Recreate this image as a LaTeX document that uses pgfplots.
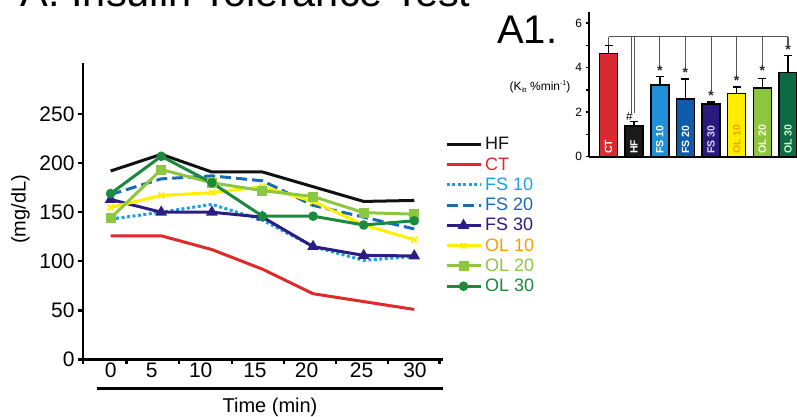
\documentclass[border=0pt]{standalone}
\usepackage{pgfplots}
\pgfplotsset{compat=1.18}
\usepackage{fontspec}
\setmainfont{Liberation Sans}
\setsansfont{Liberation Sans}
\definecolor{cHF}{HTML}{111111}
\definecolor{cCT}{HTML}{DE2A2A}
\definecolor{cFSa}{HTML}{1BA1E2}
\definecolor{cFSb}{HTML}{1A6BB5}
\definecolor{cFSc}{HTML}{2B1D84}
\definecolor{cOLa}{HTML}{FFF000}
\definecolor{cOLaT}{HTML}{F5A000}
\definecolor{cOLb}{HTML}{8DC63F}
\definecolor{cOLc}{HTML}{1B8A3C}
\definecolor{bCT}{HTML}{D92B2F}
\definecolor{bHF}{HTML}{1A1A1A}
\definecolor{bFSa}{HTML}{1E90D8}
\definecolor{bFSb}{HTML}{0F5CAA}
\definecolor{bFSc}{HTML}{2A1A80}
\definecolor{bOLa}{HTML}{FFEE00}
\definecolor{bOLb}{HTML}{8CC63F}
\definecolor{bOLc}{HTML}{0E6A45}
\definecolor{brk}{HTML}{555555}
\pgfplotsset{
  mybar/.style={ybar, bar width=18pt, bar shift=0pt, fill=#1, draw=black, line width=1.5pt,
    error bars/.cd, y dir=plus, y explicit,
    error bar style={line width=1.5pt, black},
    error mark options={rotate=90, mark size=4pt, line width=1.5pt, black}},
}
\tikzset{
  sstar/.style={inner sep=0pt, font=\fontsize{14}{14}\selectfont\bfseries, text=black!85},
  blab/.style={rotate=90, anchor=west, inner sep=0pt, font=\fontsize{10.5}{11}\selectfont\bfseries, text=#1},
}
\begin{document}
\begin{tikzpicture}[x=1pt,y=1pt]
\useasboundingbox (0,0) rectangle (797,417);
\node[anchor=base west, inner sep=0pt, font=\fontsize{41.5}{45}\selectfont] at (20.5,410) {A. Insulin Tolerance Test};
\node[anchor=base west, inner sep=0pt, font=\fontsize{40}{44}\selectfont] at (497,373.7) {A1.};

\begin{axis}[
  at={(83pt,57.5pt)}, anchor=south west, scale only axis,
  width=359.6pt, height=296.5pt,
  xmin=-2.73, xmax=32.8, ymin=0, ymax=302,
  axis x line*=bottom, axis y line*=left,
  axis line style={line width=2.5pt},
  clip=false,
  ytick={0,50,100,150,200,250},
  xtick={-2.73,1.56,6.78,12.0,17.1,22.3,27.4,32.5},
  xticklabels={,,,,,,,},
  extra x ticks={0,4.05,8.9,14.26,19.37,24.8,30.07},
  extra x tick labels={0,5,10,15,20,25,30},
  extra x tick style={major tick length=0pt},
  tick align=outside, major tick length=5pt,
  every tick/.style={black, line width=2.2pt},
  tick label style={font=\fontsize{21}{24}\selectfont},
  /pgf/number format/assume math mode=true,
  ylabel={(mg/dL)},
  every axis y label/.style={at={(-62.5pt,150pt)}, rotate=90, anchor=center, font=\fontsize{20}{22}\selectfont},
  legend image code/.code={\draw[mark repeat=2,mark phase=2,#1] plot coordinates {(0pt,0pt) (17pt,0pt) (34pt,0pt)};},
  legend cell align=left,
  legend style={at={(1.0067,0.7555)}, anchor=north west, draw=none, fill=none,
    inner sep=0pt, outer sep=0pt, row sep=2.2pt, column sep=1pt,
    font=\fontsize{18}{19}\selectfont},
]
\addplot[cHF, line width=3pt] coordinates {(0,192) (5,209) (10,191) (15,191) (20,176) (25,161) (30,162)};
\addlegendentry{\textcolor{cHF}{HF}}
\addplot[cCT, line width=3pt] coordinates {(0,126) (5,126) (10,112) (15,92) (20,67) (25,59) (30,51)};
\addlegendentry{\textcolor{cCT}{CT}}
\addplot[cFSa, line width=3pt, dash pattern=on 3pt off 2.5pt] coordinates {(0,143) (5,150) (10,158) (15,142) (20,115) (25,101) (30,105)};
\addlegendentry{\textcolor{cFSa}{FS 10}}
\addplot[cFSb, line width=3pt, dash pattern=on 11pt off 5pt] coordinates {(0,168) (5,184) (10,187) (15,182) (20,157) (25,145) (30,133)};
\addlegendentry{\textcolor{cFSb}{FS 20}}
\addplot[cFSc, line width=3pt, mark=triangle*, mark size=3.8pt, mark options={solid}] coordinates {(0,163) (5,150) (10,150) (15,145) (20,115) (25,106) (30,105.5)};
\addlegendentry{\textcolor{cFSc}{FS 30}}
\addplot[cOLa, line width=3pt, mark=x, mark size=4pt, mark options={solid, line width=2pt}] coordinates {(0,155) (5,167) (10,170) (15,176) (20,161) (25,137) (30,122)};
\addlegendentry{\textcolor{cOLaT}{OL 10}}
\addplot[cOLb, line width=3pt, mark=square*, mark size=3.5pt, mark options={solid}] coordinates {(0,144) (5,193.5) (10,180) (15,172) (20,166) (25,149.6) (30,148)};
\addlegendentry{\textcolor{cOLb}{OL 20}}
\addplot[cOLc, line width=3pt, mark=*, mark size=3.2pt, mark options={solid}] coordinates {(0,169) (5,207) (10,180) (15,146) (20,146) (25,137) (30,141.3)};
\addlegendentry{\textcolor{cOLc}{OL 30}}
\end{axis}
\draw[line width=2.5pt] (96.7,28.7) -- (442.7,28.7);
\node[anchor=base, inner sep=0pt, font=\fontsize{20}{22}\selectfont] at (270,4.5) {Time (min)};

\begin{axis}[
  at={(589pt,260.3pt)}, anchor=south west, scale only axis,
  width=208pt, height=144.6pt,
  xmin=0, xmax=208, ymin=0, ymax=6.5,
  axis x line*=bottom, axis y line*=left,
  axis line style={line width=2pt},
  clip=false,
  xtick=\empty, ytick={0,2,4,6}, minor ytick={1,3,5},
  tick align=outside, major tick length=3.5pt, minor tick length=3.5pt,
  every tick/.style={black, line width=1.5pt},
  tick label style={font=\fontsize{12}{14}\selectfont},
  /pgf/number format/assume math mode=true,
]
\addplot[mybar=bCT] coordinates {(19.5,4.65) +- (0,0.35)};
\addplot[mybar=bHF] coordinates {(45.1,1.39) +- (0,0.2)};
\addplot[mybar=bFSa] coordinates {(70.8,3.22) +- (0,0.39)};
\addplot[mybar=bFSb] coordinates {(96.4,2.59) +- (0,0.91)};
\addplot[mybar=bFSc] coordinates {(122.1,2.37) +- (0,0.09)};
\addplot[mybar=bOLa] coordinates {(147.7,2.83) +- (0,0.3)};
\addplot[mybar=bOLb] coordinates {(173.3,3.09) +- (0,0.43)};
\addplot[mybar=bOLc] coordinates {(199,3.79) +- (0,0.76)};
% significance bracket
\draw[brk, line width=1.2pt] (axis cs:19.5,5.4) -- (axis cs:199,5.4);
\draw[brk, line width=1.2pt] (axis cs:19.5,5.4) -- (axis cs:19.5,5.0);
\draw[brk, line width=1.2pt] (axis cs:42.8,5.4) -- (axis cs:42.8,1.95);
\draw[brk, line width=1.2pt] (axis cs:45.6,5.4) -- (axis cs:45.6,1.95);
\draw[brk, line width=1.2pt] (axis cs:70.8,5.4) -- (axis cs:70.8,4.05);
\draw[brk, line width=1.2pt] (axis cs:96.4,5.4) -- (axis cs:96.4,4.0);
\draw[brk, line width=1.2pt] (axis cs:122.1,5.4) -- (axis cs:122.1,2.95);
\draw[brk, line width=1.2pt] (axis cs:147.7,5.4) -- (axis cs:147.7,3.6);
\draw[brk, line width=1.2pt] (axis cs:173.3,5.4) -- (axis cs:173.3,4.05);
\draw[brk, line width=1.2pt] (axis cs:199,5.4) -- (axis cs:199,5.02);
\node[sstar] at (axis cs:70.8,3.85) {*};
\node[sstar] at (axis cs:96.4,3.77) {*};
\node[sstar] at (axis cs:122.1,2.75) {*};
\node[sstar] at (axis cs:147.7,3.4) {*};
\node[sstar] at (axis cs:173.3,3.85) {*};
\node[sstar] at (axis cs:199,4.81) {*};
\node[inner sep=0pt, font=\fontsize{12}{12}\selectfont] at (axis cs:40.5,1.83) {\#};
% bar labels
\node[blab=white] at (axis cs:19.5,0.12) {CT};
\node[blab=white] at (axis cs:45.1,0.12) {HF};
\node[blab=white] at (axis cs:70.8,0.12) {FS 10};
\node[blab=white] at (axis cs:96.4,0.12) {FS 20};
\node[blab=white!85!blue] at (axis cs:122.1,0.12) {FS 30};
\node[blab=cOLaT] at (axis cs:147.7,0.12) {OL 10};
\node[blab=white!90!yellow] at (axis cs:173.3,0.12) {OL 20};
\node[blab=white!80!green] at (axis cs:199,0.12) {OL 30};
\end{axis}
\node[inner sep=0pt, font=\fontsize{12}{13}\selectfont] at (540,330) {(K\raisebox{-0.35ex}{\fontsize{6.5}{6.5}\selectfont itt} \%min\raisebox{0.7ex}{\fontsize{7}{7}\selectfont -1})};
\end{tikzpicture}
\end{document}
